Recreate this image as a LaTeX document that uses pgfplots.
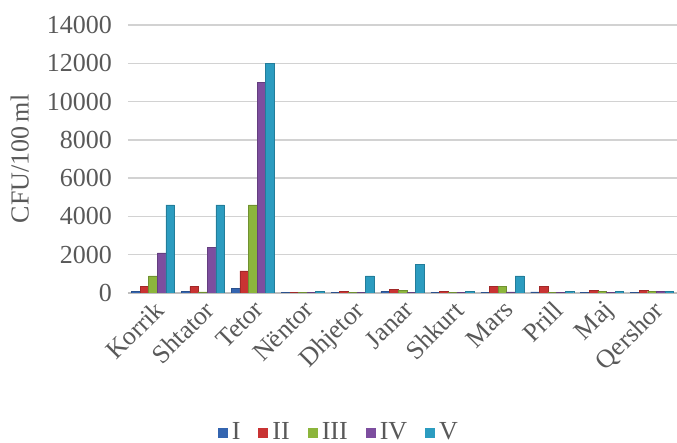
\documentclass[border=0pt]{standalone}
\usepackage{pgfplots}
\pgfplotsset{compat=1.18}
\usepackage{fontspec}
\setmainfont{Liberation Serif}
\definecolor{txt}{HTML}{595959}
\definecolor{cI}{HTML}{3465B0}
\definecolor{cII}{HTML}{C93333}
\definecolor{cIII}{HTML}{8CB53C}
\definecolor{cIV}{HTML}{7D4E9F}
\definecolor{cV}{HTML}{2C9CC0}
\begin{document}
\begin{tikzpicture}
\begin{axis}[
  at={(0,0)}, anchor=south west,
  scale only axis, width=274.5pt, height=134pt,
  ymin=0, ymax=14000, ytick={0,2000,...,14000},
  xmin=-0.5, xmax=10.5,
  xtick={0,...,10},
  xticklabels={Korrik,Shtator,Tetor,Nëntor,Dhjetor,Janar,Shkurt,Mars,Prill,Maj,Qershor},
  ybar=0pt, bar width=4.3pt,
  ymajorgrids, grid style={draw=gray!35, line width=0.7pt},
  axis x line*=bottom, axis y line*=left,
  y axis line style={draw=none},
  x axis line style={draw=gray!50, line width=0.7pt},
  major tick length=0pt,
  tick label style={font=\fontsize{13}{15}\selectfont, text=txt},
  x tick label style={rotate=45, anchor=north east, inner sep=2pt},
  y tick label style={xshift=-4.5pt},
  scaled y ticks=false,
  /pgf/number format/set thousands separator={},
  /pgf/number format/assume math mode=true,
  ylabel={CFU/100\,ml},
  ylabel style={font=\fontsize{13}{15}\selectfont, text=txt, at={(axis description cs:-0.197,0.5)}, anchor=center},
  legend style={at={(axis description cs:0.386,-0.522)}, anchor=center, draw=none, legend columns=5,
    font=\fontsize{13}{15}\selectfont, text=txt, /tikz/every even column/.append style={column sep=7pt}},
  legend image code/.code={\fill[#1, draw=none] (0pt,-2.5pt) rectangle (5pt,2.5pt);},
]
\addplot[fill=cI, draw=cI!80!black, line width=0.2pt] coordinates {(0,80) (1,100) (2,250) (3,30) (4,30) (5,80) (6,30) (7,40) (8,60) (9,30) (10,30)};
\addplot[fill=cII, draw=cII!80!black, line width=0.2pt] coordinates {(0,350) (1,350) (2,1150) (3,30) (4,80) (5,200) (6,80) (7,350) (8,350) (9,150) (10,150)};
\addplot[fill=cIII, draw=cIII!80!black, line width=0.2pt] coordinates {(0,900) (1,60) (2,4600) (3,30) (4,30) (5,120) (6,30) (7,330) (8,40) (9,80) (10,80)};
\addplot[fill=cIV, draw=cIV!80!black, line width=0.2pt] coordinates {(0,2100) (1,2400) (2,11000) (3,30) (4,30) (5,30) (6,30) (7,60) (8,30) (9,40) (10,80)};
\addplot[fill=cV, draw=cV!80!black, line width=0.2pt] coordinates {(0,4600) (1,4600) (2,12000) (3,80) (4,900) (5,1500) (6,80) (7,900) (8,80) (9,80) (10,80)};
\legend{I,II,III,IV,V}
\end{axis}
\pgfresetboundingbox
\path[use as bounding box] (-64pt,-75pt) rectangle (274.5pt,146.5pt);
\end{tikzpicture}
\end{document}
